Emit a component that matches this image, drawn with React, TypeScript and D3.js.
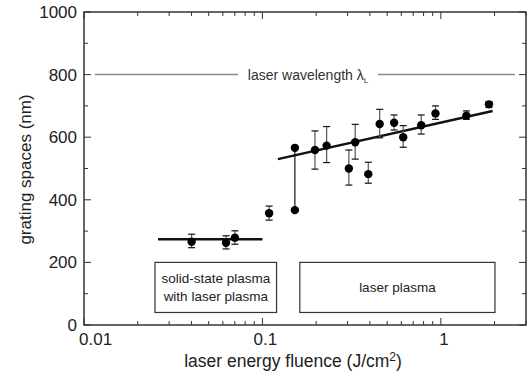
import React, { useEffect, useRef } from 'react';
import * as d3 from 'd3';

// measured points: fluence (J/cm2), grating space (nm), error bar low / high
const fluence = [0.0401, 0.0625, 0.0701, 0.109, 0.197, 0.229, 0.305, 0.331, 0.392, 0.454, 0.547, 0.615, 0.776, 0.933, 1.39, 1.86];
const spacing = [266, 263, 279, 357, 559, 573, 500, 584, 482, 642, 646, 600, 638, 676, 669, 705];
const errLow = [247, 243, 258, 335, 498, 519, 447, 530, 453, 598, 623, 568, 610, 657, 657, 695];
const errHigh = [290, 285, 301, 380, 620, 634, 559, 641, 520, 689, 671, 637, 671, 700, 684, 713];

// the pair at the threshold, joined by a plain line
const splitFluence = 0.152;
const splitValues = [566, 367];

// fitted lines
const fitLow = [[0.026, 274], [0.1, 274]];
const fitHigh = [[0.122, 530], [1.95, 684]];

const wavelength = 800;
const xTicks = [0.01, 0.1, 1];
const yTicks = [0, 200, 400, 600, 800, 1000];

const App = () => {
  const svgRef = useRef(null);

  useEffect(() => {
    const width = 527;
    const height = 375;
    const margin = { top: 12, right: 1, bottom: 50, left: 84 };
    const font = 'Liberation Sans, Arial, Helvetica, sans-serif';

    const svg = d3.select(svgRef.current)
      .attr('width', width)
      .attr('height', height);
    svg.selectAll('*').remove();

    const x = d3.scaleLog().domain([0.01, 3]).range([margin.left, width - margin.right]);
    const y = d3.scaleLinear().domain([0, 1000]).range([height - margin.bottom, margin.top]);

    const axisColor = '#333';

    // frame
    svg.append('rect')
      .attr('x', x(0.01)).attr('y', y(1000))
      .attr('width', x(3) - x(0.01)).attr('height', y(0) - y(1000))
      .attr('fill', 'none').attr('stroke', axisColor).attr('stroke-width', 1.5);

    // log ticks, inward on bottom and top
    const logTicks = [];
    [0.01, 0.1, 1].forEach(dec => {
      for (let k = 1; k <= 9; k++) {
        const v = dec * k;
        if (v <= 3) logTicks.push({ v, major: k === 1 });
      }
    });
    logTicks.forEach(t => {
      const len = t.major ? 7 : 4;
      svg.append('line')
        .attr('x1', x(t.v)).attr('x2', x(t.v))
        .attr('y1', y(0)).attr('y2', y(0) - len)
        .attr('stroke', axisColor).attr('stroke-width', 1);
      svg.append('line')
        .attr('x1', x(t.v)).attr('x2', x(t.v))
        .attr('y1', y(1000)).attr('y2', y(1000) + len)
        .attr('stroke', axisColor).attr('stroke-width', 1);
    });

    // y ticks every 100, inward on left and right
    d3.range(0, 1001, 100).forEach(v => {
      const len = v % 200 === 0 ? 7 : 4;
      svg.append('line')
        .attr('x1', x(0.01)).attr('x2', x(0.01) + len)
        .attr('y1', y(v)).attr('y2', y(v))
        .attr('stroke', axisColor).attr('stroke-width', 1);
      svg.append('line')
        .attr('x1', x(3)).attr('x2', x(3) - len)
        .attr('y1', y(v)).attr('y2', y(v))
        .attr('stroke', axisColor).attr('stroke-width', 1);
    });

    // tick labels
    svg.append('g').selectAll('text')
      .data(xTicks)
      .enter()
      .append('text')
      .attr('x', d => (d === 0.01 ? x(d) - 5 : x(d) + 3))
      .attr('y', y(0) + 20)
      .attr('text-anchor', d => (d === 0.01 ? 'start' : 'middle'))
      .attr('font-family', font).attr('font-size', 17).attr('fill', '#222')
      .text(d => String(d));

    svg.append('g').selectAll('text')
      .data(yTicks)
      .enter()
      .append('text')
      .attr('x', x(0.01) - 7)
      .attr('y', d => y(d) + 6)
      .attr('text-anchor', 'end')
      .attr('font-family', font).attr('font-size', 17).attr('fill', '#222')
      .text(d => d);

    // axis titles
    const xTitle = svg.append('text')
      .attr('x', 293).attr('y', 367)
      .attr('text-anchor', 'middle')
      .attr('font-family', font).attr('font-size', 17.5).attr('fill', '#222');
    xTitle.append('tspan').text('laser energy fluence (J/cm');
    xTitle.append('tspan').attr('font-size', 12).attr('dy', -6).text('2');
    xTitle.append('tspan').attr('dy', 6).text(')');

    svg.append('text')
      .attr('transform', `translate(31, ${y(500) + 1}) rotate(-90)`)
      .attr('text-anchor', 'middle')
      .attr('font-family', font).attr('font-size', 17).attr('fill', '#222')
      .text('grating spaces (nm)');

    // laser wavelength line with label
    svg.append('line')
      .attr('x1', x(0.0115)).attr('x2', 238)
      .attr('y1', y(wavelength)).attr('y2', y(wavelength))
      .attr('stroke', '#888').attr('stroke-width', 1.5);
    svg.append('line')
      .attr('x1', 378).attr('x2', x(2.6))
      .attr('y1', y(wavelength)).attr('y2', y(wavelength))
      .attr('stroke', '#888').attr('stroke-width', 1.5);
    const wl = svg.append('text')
      .attr('x', 308).attr('y', y(wavelength) + 5)
      .attr('text-anchor', 'middle')
      .attr('font-family', font).attr('font-size', 14).attr('fill', '#333');
    wl.append('tspan').text('laser wavelength λ');
    wl.append('tspan').attr('font-size', 8).attr('dy', 3).text('L');

    // regime boxes
    const boxes = [
      { x0: 0.025, x1: 0.12, lines: ['solid-state plasma', 'with laser plasma'] },
      { x0: 0.162, x1: 2.01, lines: ['laser plasma'] }
    ];
    boxes.forEach(b => {
      svg.append('rect')
        .attr('x', x(b.x0)).attr('y', y(200))
        .attr('width', x(b.x1) - x(b.x0)).attr('height', y(40) - y(200))
        .attr('fill', 'white').attr('stroke', '#333').attr('stroke-width', 1.2);
      const cx = (x(b.x0) + x(b.x1)) / 2;
      const cy = (y(40) + y(200)) / 2;
      b.lines.forEach((line, i) => {
        svg.append('text')
          .attr('x', cx)
          .attr('y', cy + 5 + (i - (b.lines.length - 1) / 2) * 18)
          .attr('text-anchor', 'middle')
          .attr('font-family', font).attr('font-size', 13.5).attr('fill', '#222')
          .text(line);
      });
    });

    // fit lines
    const line = d3.line().x(d => x(d[0])).y(d => y(d[1]));
    [fitLow, fitHigh].forEach(f => {
      svg.append('path')
        .attr('d', line(f))
        .attr('fill', 'none').attr('stroke', '#111').attr('stroke-width', 2.5);
    });

    // error bars
    const eb = svg.append('g');
    fluence.forEach((f, i) => {
      const cx = x(f);
      eb.append('line')
        .attr('x1', cx).attr('x2', cx)
        .attr('y1', y(errLow[i])).attr('y2', y(errHigh[i]))
        .attr('stroke', '#555').attr('stroke-width', 1.2);
      [errLow[i], errHigh[i]].forEach(v => {
        eb.append('line')
          .attr('x1', cx - 3.5).attr('x2', cx + 3.5)
          .attr('y1', y(v)).attr('y2', y(v))
          .attr('stroke', '#111').attr('stroke-width', 1.2);
      });
    });

    // threshold pair joined by a line
    svg.append('line')
      .attr('x1', x(splitFluence)).attr('x2', x(splitFluence))
      .attr('y1', y(splitValues[0])).attr('y2', y(splitValues[1]))
      .attr('stroke', '#111').attr('stroke-width', 1.2);

    // points
    svg.append('g').selectAll('circle')
      .data(fluence.map((f, i) => [f, spacing[i]]).concat(splitValues.map(v => [splitFluence, v])))
      .enter()
      .append('circle')
      .attr('cx', d => x(d[0]))
      .attr('cy', d => y(d[1]))
      .attr('r', 4.2)
      .attr('fill', '#000');
  }, []);

  return <svg ref={svgRef} style={{ position: 'absolute', left: 0, top: 0 }}></svg>;
};

export default App;
